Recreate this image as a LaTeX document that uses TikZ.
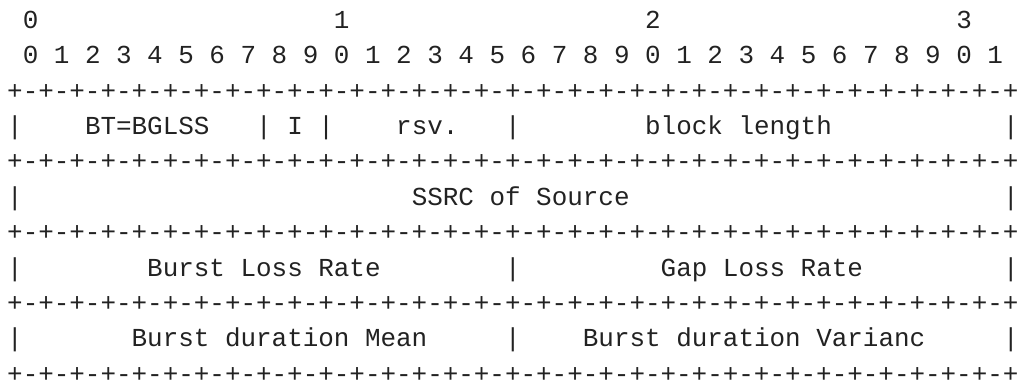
\documentclass[tikz,border=0pt]{standalone}
\usepackage{fontspec}
\newfontfamily\asciifont{Liberation Mono}
\definecolor{ink}{HTML}{222222}
\tikzset{
  txt/.style={anchor=base west, inner sep=0pt, outer sep=0pt,
    font=\asciifont\fontsize{25.93}{30}\selectfont, text=ink},
  rulertxt/.style={txt, text depth=0pt}
}
\newcommand\rulerline{+-+-+-+-+-+-+-+-+-+-+-+-+-+-+-+-+-+-+-+-+-+-+-+-+-+-+-+-+-+-+-+-+}
\begin{document}
\begin{tikzpicture}[x=15.56pt,y=-35.4pt]
\useasboundingbox (0pt,0pt) rectangle (1023pt,-383pt);
\begin{scope}[shift={(7.2pt,-28.3pt)}]
% header rows
\node[txt] (h0) at (1,0) {0};
\node[txt] (h1) at (21,0) {1};
\node[txt] (h2) at (41,0) {2};
\node[txt] (h3) at (61,0) {3};
\foreach \k in {0,...,31}{
  \pgfmathtruncatemacro\dg{mod(\k,10)}
  \node[txt] (b\k) at ({1+2*\k},1) {\dg};
}
% rulers
\foreach \r in {2,4,6,8,10}{
  \node[rulertxt] (r\r) at (0,\r) {\rulerline};
}
% row 3
\node[txt] (p30) at (0,3) {|};
\node[txt] (bt) at (5,3) {BT=BGLSS};
\node[txt] (p316) at (16,3) {|};
\node[txt] (ii) at (18,3) {I};
\node[txt] (p320) at (20,3) {|};
\node[txt] (rsv) at (25,3) {rsv.};
\node[txt] (p332) at (32,3) {|};
\node[txt] (bl) at (41,3) {block length};
\node[txt] (p364) at (64,3) {|};
% row 5
\node[txt] (p50) at (0,5) {|};
\node[txt] (ssrc) at (26,5) {SSRC of Source};
\node[txt] (p564) at (64,5) {|};
% row 7
\node[txt] (p70) at (0,7) {|};
\node[txt] (blr) at (9,7) {Burst Loss Rate};
\node[txt] (p732) at (32,7) {|};
\node[txt] (glr) at (42,7) {Gap Loss Rate};
\node[txt] (p764) at (64,7) {|};
% row 9
\node[txt] (p90) at (0,9) {|};
\node[txt] (bdm) at (8,9) {Burst duration Mean};
\node[txt] (p932) at (32,9) {|};
\node[txt] (bdv) at (37,9) {Burst duration Varianc};
\node[txt] (p964) at (64,9) {|};
\end{scope}
\end{tikzpicture}
\end{document}
